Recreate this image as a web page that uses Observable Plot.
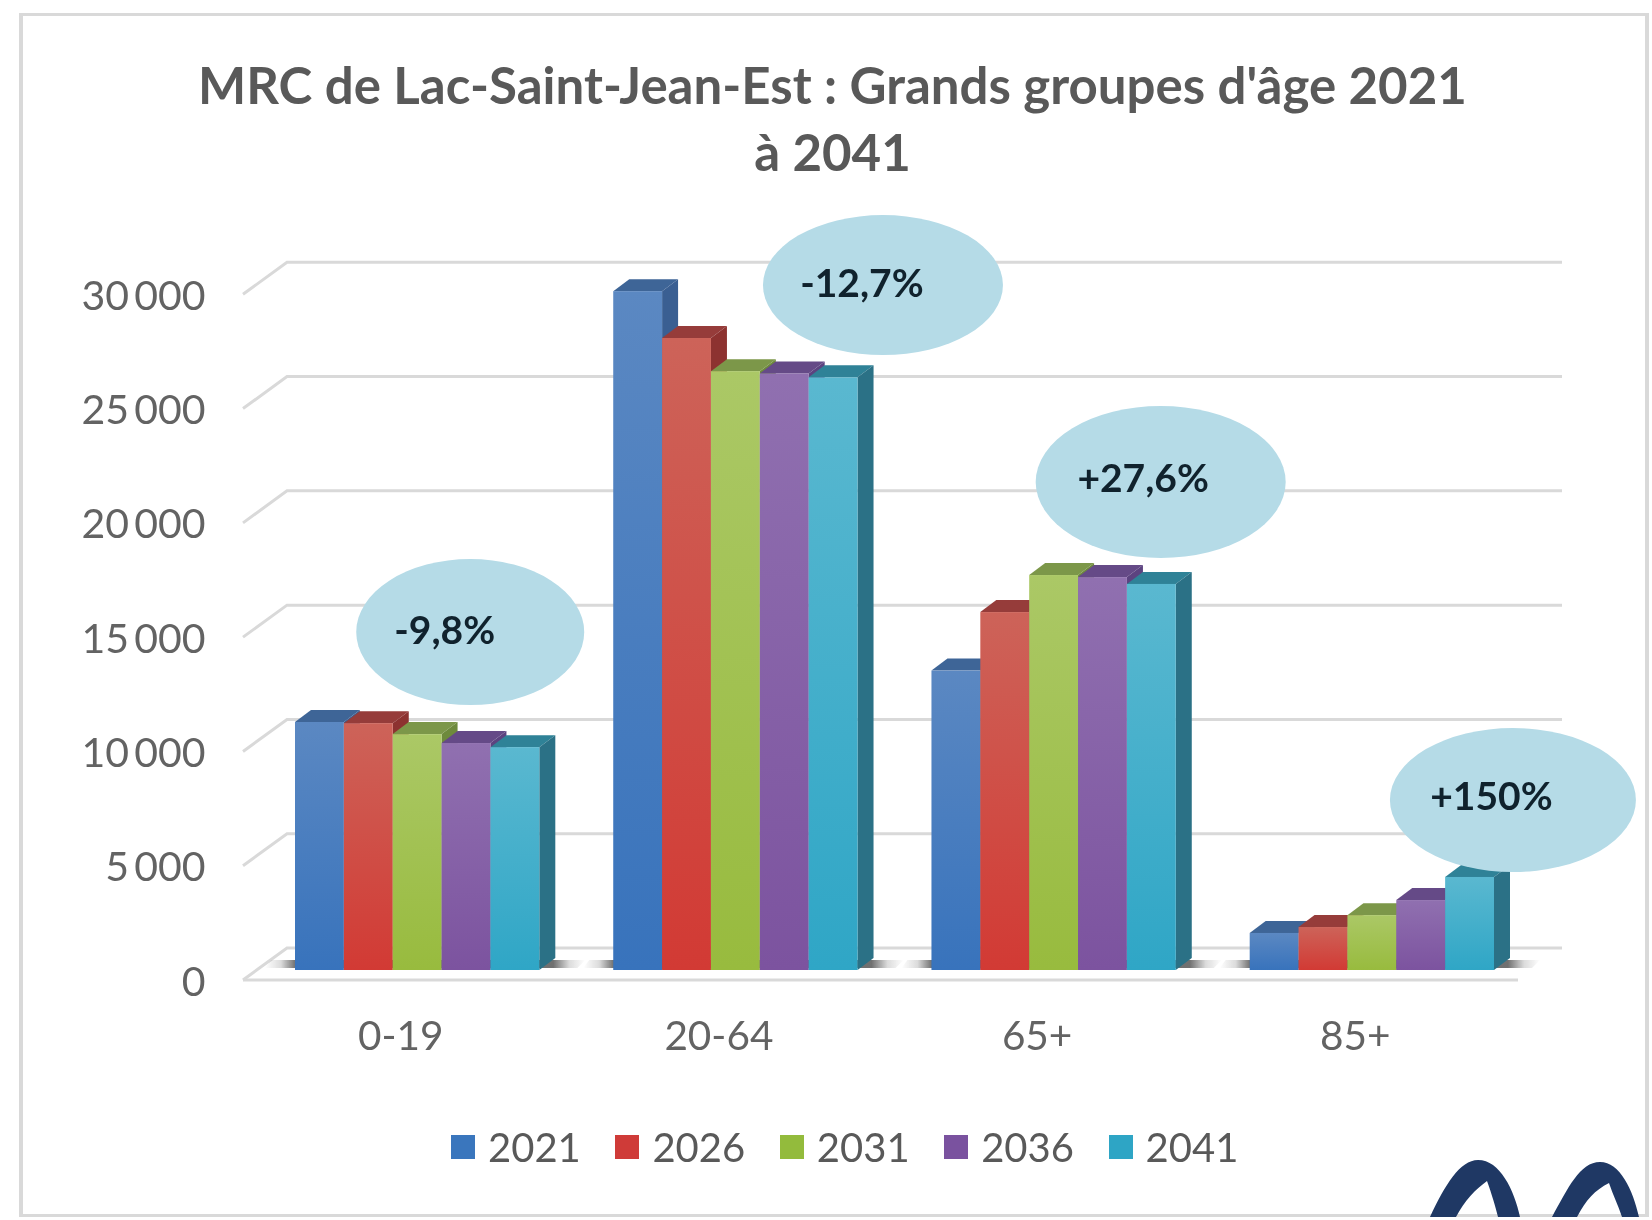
<!DOCTYPE html>
<html lang="fr">
<head>
<meta charset="utf-8">
<title>MRC de Lac-Saint-Jean-Est</title>
<script src="https://cdn.jsdelivr.net/npm/d3@7"></script>
<script src="https://cdn.jsdelivr.net/npm/@observablehq/plot@0.6"></script>
<style>
  html, body { margin: 0; padding: 0; background: #fff; }
  #page { position: relative; width: 1652px; height: 1220px; overflow: hidden; background: #fff; font-family: Lato, "Open Sans", sans-serif; }
  #frame { position: absolute; left: 19px; top: 13px; width: 1630px; height: 1204px; box-sizing: border-box; border: solid #d9d9d9; border-width: 3px 4px 3px 4px; }
  #title { position: absolute; left: 0; width: 1665px; top: 51px; text-align: center; font-weight: 700; font-size: 51px; line-height: 67px; color: #595959; filter: blur(0.6px); }
  #chart { position: absolute; left: 0; top: 205px; filter: blur(0.6px); }
  #chart svg { display: block; overflow: visible; }
  #legend { position: absolute; left: 451px; top: 1124px; display: flex; font-size: 40px; color: #595959; line-height: 46px; filter: blur(0.6px); }
  .entry { display: flex; align-items: center; width: 164.4px; }
  .swatch { width: 24px; height: 24px; margin-right: 13px; }
  #logo { position: absolute; left: 0; top: 0; }
</style>
</head>
<body>
<div id="page">
  <div id="frame"></div>
  <div id="title">MRC de Lac-Saint-Jean-Est : Grands groupes d'âge 2021<br>à 2041</div>
  <div id="chart"></div>
  <div id="legend"></div>
  <svg id="logo" width="1652" height="1220"><path fill="#1f3864" d="M1430 1217C1445 1185 1460 1160 1478 1160C1500 1160 1514 1190 1520 1217L1498 1217C1495 1205 1492 1195 1487 1181C1475 1190 1465 1200 1456 1217Z"/><path fill="#1f3864" d="M1552 1217C1568 1188 1580 1162 1600 1162C1620 1162 1633 1190 1639 1217L1622 1217C1618 1205 1613 1195 1609 1183C1595 1190 1586 1200 1577 1217Z"/></svg>
</div>
<script>
// Data
const groups = ["0-19", "20-64", "65+", "85+"];
const years = ["2021", "2026", "2031", "2036", "2041"];
const values2021 = [10850, 29700, 13100, 1620];
const values2026 = [10800, 27650, 15660, 1880];
const values2031 = [10320, 26200, 17280, 2400];
const values2036 = [9930, 26100, 17190, 3060];
const values2041 = [9750, 25930, 16890, 4070];
const yTicks = [0, 5000, 10000, 15000, 20000, 25000, 30000];
const bubbleLabels = ["-9,8%", "-12,7%", "+27,6%", "+150%"];
const bubbleLevels = [14785, 29965, 21350, 7437];

// Styles and layout
const series = [values2021, values2026, values2031, values2036, values2041];
const swatchColors = ["#3a76bd", "#cf3b38", "#93bb3c", "#7a529f", "#2ea5c5"];
const gradTop = ["#5b88c2", "#cd6359", "#abc866", "#9070b0", "#5ab8d0"];
const gradBottom = ["#3873bc", "#d23a34", "#98bb3e", "#7c539f", "#2fa6c6"];
const topFace = ["#3e6597", "#963c3a", "#7c9749", "#654a87", "#2f8297"];
const sideFace = ["#3a5f92", "#8d3230", "#6e8a3c", "#5c4380", "#2b7186"];
const depthX = 16, depthY = 12;
const bubbleShape = [
  {dx: 77.5, rx: 114, ry: 73, tx: 52, ty: -3},
  {dx: 172, rx: 120, ry: 70, tx: 151, ty: -3},
  {dx: 131.5, rx: 125, ry: 76, tx: 114, ty: -5},
  {dx: 165.5, rx: 123, ry: 72, tx: 144, ty: -5}
];

const rows = groups.flatMap((group, g) => years.map((year, s) => ({group, year, value: series[s][g]})));
const bubbles = groups.map((group, i) => ({group, label: bubbleLabels[i], level: bubbleLevels[i], shape: bubbleShape[i]}));

const wallDy = -22, floorDy = 10;
const wallX1 = 287, wallX2 = 1562, floorX1 = 243, floorX2 = 1518;
const grey = "#d9d9d9";

function wallRender(index, scales, values) {
  const g = d3.create("svg:g").attr("stroke", grey).attr("stroke-width", 3).attr("fill", "none");
  for (const i of index) {
    const y = values.y[i];
    g.append("path").attr("d", `M${floorX1},${y + floorDy}L${wallX1},${y + wallDy}L${wallX2},${y + wallDy}`);
  }
  const y0 = scales.y(0);
  g.append("path").attr("d", `M${floorX1},${y0 + floorDy}L${floorX2},${y0 + floorDy}`);
  return g.node();
}

function barRender(index, scales, values, dimensions, context, next) {
  const g = next(index, scales, values, dimensions, context);
  const rects = Array.from(g.querySelectorAll("rect"));
  if (!rects.length) return g;
  const svgNS = "http://www.w3.org/2000/svg";
  const poly = (d, fill) => {
    const p = document.createElementNS(svgNS, "path");
    p.setAttribute("d", d); p.setAttribute("fill", fill);
    return p;
  };
  const xs = rects.map(r => +r.getAttribute("x"));
  const left = d3.min(xs), right = d3.max(xs) + +rects[0].getAttribute("width");
  const base = +rects[0].getAttribute("y") + +rects[0].getAttribute("height");
  const parent = rects[0].parentNode;
  // floor shadow
  parent.insertBefore(poly(`M${left - 30},${base - 2}L${left - 24},${base - 10}L${right + 46},${base - 10}L${right + 38},${base - 2}Z`, "url(#floorShadow)"), rects[0]);
  rects.forEach((r, k) => {
    const x = +r.getAttribute("x"), y = +r.getAttribute("y"), w = +r.getAttribute("width"), h = +r.getAttribute("height");
    parent.insertBefore(poly(`M${x},${y}L${x + depthX},${y - depthY}L${x + w + depthX},${y - depthY}L${x + w},${y}Z`, topFace[k]), r);
    parent.insertBefore(poly(`M${x + w},${y}L${x + w + depthX},${y - depthY}L${x + w + depthX},${y + h - depthY}L${x + w},${y + h}Z`, sideFace[k]), r);
  });
  return g;
}

function bubbleRender(index, scales, values) {
  const g = d3.create("svg:g");
  for (const i of index) {
    const s = bubbles[i].shape;
    const cx = values.x[i], cy = values.y[i];
    g.append("ellipse").attr("cx", cx + s.dx).attr("cy", cy).attr("rx", s.rx).attr("ry", s.ry).attr("fill", "#b5dbe7");
    g.append("text").attr("x", cx + s.tx).attr("y", cy + s.ty)
      .attr("text-anchor", "middle").attr("dominant-baseline", "central")
      .attr("font-size", 39).attr("font-weight", 700).attr("fill", "#10222d")
      .text(bubbles[i].label);
  }
  return g.node();
}

const spaced = d => d3.format(",")(d).replace(/,/g, "\u2009");

const chart = Plot.plot({
  width: 1652,
  height: 870,
  marginTop: 79.3,
  marginBottom: 105,
  marginLeft: 295,
  marginRight: 158,
  style: {fontFamily: "Lato, 'Open Sans', sans-serif", background: "transparent", color: "#595959"},
  fx: {domain: groups, paddingInner: 0.2323, paddingOuter: 0, round: false, label: null},
  x: {domain: years, padding: 0, round: false, axis: null},
  y: {domain: [0, 30000], label: null, axis: null},
  color: {type: "ordinal", domain: years, range: years.map(y => `url(#bar${y})`)},
  marks: [
    Plot.ruleY(yTicks, {y: d => d, fx: () => groups[0], render: wallRender}),
    Plot.axisY({anchor: "left", ticks: yTicks, tickFormat: spaced, tickSize: 0, tickPadding: 90, dy: 12, fontSize: 41, label: null, fill: "#636363"}),
    Plot.axisFx({anchor: "bottom", tickSize: 0, tickPadding: 51, dx: -17, fontSize: 40.5, label: null, fill: "#636363"}),
    Plot.barY(rows, {fx: "group", x: "year", y: "value", fill: "year", render: barRender}),
    Plot.dot(bubbles, {fx: "group", x: () => "2031", y: "level", r: 1, render: bubbleRender})
  ]
});

// Gradients used by the colour scale's range
const defs = d3.select(chart).insert("defs", ":first-child");
years.forEach((y, i) => {
  const lg = defs.append("linearGradient").attr("id", `bar${y}`).attr("x1", 0).attr("y1", 0).attr("x2", 0).attr("y2", 1);
  lg.append("stop").attr("offset", "0%").attr("stop-color", gradTop[i]);
  lg.append("stop").attr("offset", "100%").attr("stop-color", gradBottom[i]);
});
const fs = defs.append("linearGradient").attr("id", "floorShadow");
[[0, 0], [0.05, 0.2], [0.095, 0.8], [0.9, 0.8], [0.95, 0.2], [1, 0]].forEach(([o, a]) =>
  fs.append("stop").attr("offset", o).attr("stop-color", "#4d4d4d").attr("stop-opacity", a));

document.getElementById("chart").appendChild(chart);

// Legend
const legend = d3.select("#legend");
years.forEach((y, i) => {
  const e = legend.append("div").attr("class", "entry");
  e.append("div").attr("class", "swatch").style("background", swatchColors[i]);
  e.append("span").text(y);
});
</script>
</body>
</html>
